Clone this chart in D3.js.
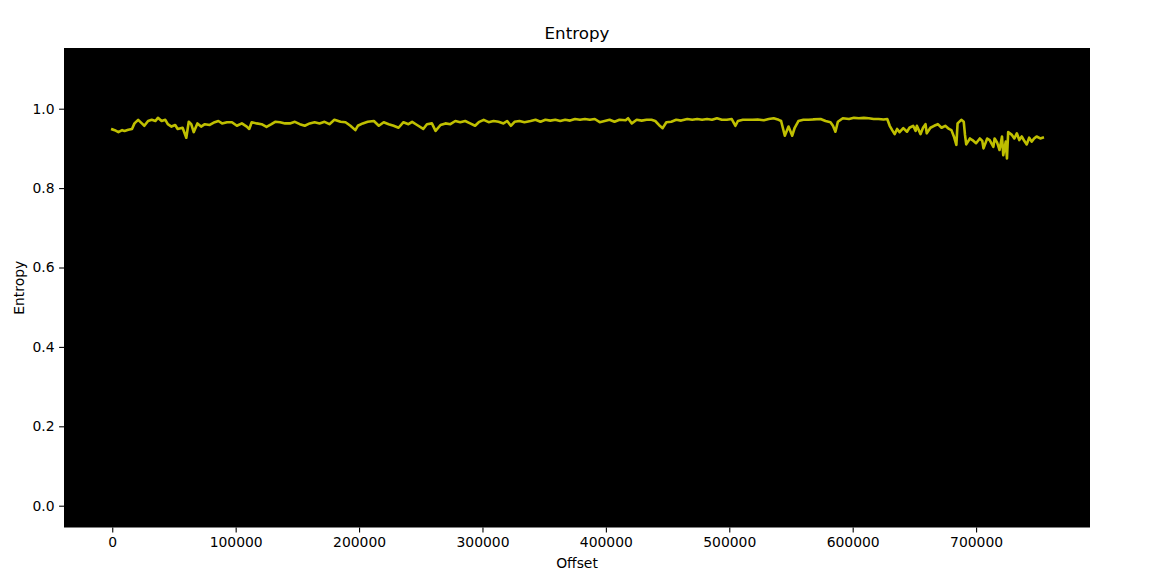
<!DOCTYPE html>
<html>
<head>
<meta charset="utf-8">
<script src="https://cdn.jsdelivr.net/npm/d3@7"></script>
<style>
  html, body { margin: 0; padding: 0; background: #ffffff; }
  svg { display: block; font-family: "DejaVu Sans", sans-serif; }
</style>
</head>
<body>
<svg id="chart" width="1154" height="583"></svg>
<script>
// ---- data ----
const offsetsK = [
  0,2,5,8,10,13,16,18,21,24,26,29,32,35,37,40,43,45,48,51,53,57,60,62,64,66,69,72,75,79,
  83,86,89,93,97,101,105,109,111,113,117,121,125,129,132,136,140,144,148,152,156,160,164,168,172,176,180,185,
  189,193,197,199,203,207,212,216,220,224,228,232,236,240,243,247,252,255,259,262,266,270,274,278,282,286,
  290,294,297,301,305,309,313,317,320,323,326,330,334,339,343,347,351,355,359,363,367,371,375,
  379,383,387,391,395,399,403,407,411,416,418,421,425,429,433,437,440,443,446,449,453,457,461,466,470,474,
  478,482,486,490,494,498,502,505,507,511,515,519,523,528,532,536,540,542,545,548,551,553,556,560,564,568,
  574,578,582,584,586,588,592,597,601,605,609,613,617,621,625,628,630,632,634,636,638,641,644,646,649,651,
  652,655,657,659,660,663,666,669,672,675,678,680,682,684,685,688,690,691,692,695,697,700,703,705,706,709,
  711,714,715,717,719,721,722,724,725,726,729,731,733,735,737,739,741,743,745,747,749,752,754
];
const entropy = [
  0.948,0.946,0.941,0.946,0.944,0.947,0.949,0.963,0.972,0.963,0.957,0.969,0.972,0.969,0.977,0.969,0.972,0.961,0.955,0.959,0.949,0.952,0.927,0.967,0.961,0.941,0.963,0.955,0.961,0.959,
  0.966,0.969,0.963,0.966,0.966,0.957,0.963,0.955,0.949,0.966,0.963,0.961,0.954,0.961,0.967,0.966,0.963,0.963,0.967,0.961,0.957,0.963,0.966,0.963,0.967,0.961,0.972,0.967,
  0.966,0.957,0.946,0.957,0.963,0.967,0.969,0.957,0.966,0.961,0.957,0.952,0.966,0.961,0.967,0.959,0.949,0.961,0.963,0.944,0.959,0.963,0.961,0.969,0.966,0.969,
  0.963,0.957,0.966,0.972,0.966,0.969,0.967,0.963,0.969,0.957,0.967,0.969,0.966,0.969,0.972,0.967,0.972,0.970,0.972,0.969,0.972,0.970,0.974,
  0.972,0.974,0.972,0.974,0.966,0.969,0.972,0.967,0.972,0.971,0.976,0.963,0.972,0.970,0.972,0.972,0.969,0.959,0.951,0.966,0.967,0.972,0.970,0.974,0.972,0.974,
  0.972,0.974,0.972,0.976,0.972,0.972,0.974,0.957,0.969,0.972,0.972,0.972,0.973,0.971,0.974,0.976,0.972,0.969,0.932,0.955,0.932,0.952,0.969,0.972,0.972,0.973,
  0.974,0.969,0.966,0.957,0.942,0.967,0.976,0.974,0.977,0.976,0.977,0.976,0.974,0.974,0.973,0.974,0.957,0.946,0.936,0.949,0.941,0.951,0.942,0.952,0.957,0.944,
  0.957,0.936,0.952,0.961,0.938,0.952,0.957,0.961,0.952,0.957,0.949,0.946,0.930,0.909,0.963,0.972,0.967,0.934,0.910,0.925,0.921,0.913,0.925,0.919,0.900,0.925,
  0.921,0.904,0.925,0.915,0.896,0.930,0.883,0.917,0.875,0.941,0.934,0.925,0.938,0.921,0.930,0.919,0.910,0.927,0.917,0.925,0.930,0.925,0.927
];
const xTicks = [0, 100000, 200000, 300000, 400000, 500000, 600000, 700000];
const yTicks = [0.0, 0.2, 0.4, 0.6, 0.8, 1.0];
const titleText = "Entropy";
const xLabelText = "Offset";
const yLabelText = "Entropy";

const data = offsetsK.map((o, i) => ({ x: o * 1000, y: entropy[i] }));

// ---- layout ----
const svg = d3.select("#chart");
const plot = { left: 64, right: 1090, top: 48, bottom: 527.5 };

const x = d3.scaleLinear().domain([-39100, 792300]).range([plot.left, plot.right]);
const y = d3.scaleLinear().domain([-0.0549, 1.1529]).range([plot.bottom, plot.top]);

// axes background
svg.append("rect")
  .attr("x", plot.left).attr("y", plot.top)
  .attr("width", plot.right - plot.left).attr("height", plot.bottom - plot.top)
  .attr("fill", "#000000");

// line
svg.append("path")
  .datum(data)
  .attr("fill", "none")
  .attr("stroke", "#bfbf00")
  .attr("stroke-width", 2.6)
  .attr("stroke-linejoin", "round")
  .attr("stroke-linecap", "square")
  .attr("d", d3.line().x(d => x(d.x)).y(d => y(d.y)));

// x axis
const xAxis = d3.axisBottom(x).tickValues(xTicks).tickFormat(d3.format("d"))
  .tickSizeInner(4.9).tickSizeOuter(0).tickPadding(4.5);
const gx = svg.append("g").attr("transform", `translate(0,${plot.bottom})`).call(xAxis);
gx.select(".domain").remove();
gx.selectAll("line").attr("stroke", "#000").attr("stroke-width", 1.1);
gx.selectAll("text").attr("fill", "#000").style("font-size", "13.9px")
  .style("font-family", "'DejaVu Sans', sans-serif");

// y axis
const yAxis = d3.axisLeft(y).tickValues(yTicks).tickFormat(d3.format(".1f"))
  .tickSizeInner(4.9).tickSizeOuter(0).tickPadding(4.5);
const gy = svg.append("g").attr("transform", `translate(${plot.left},0)`).call(yAxis);
gy.select(".domain").remove();
gy.selectAll("line").attr("stroke", "#000").attr("stroke-width", 1.1);
gy.selectAll("text").attr("fill", "#000").style("font-size", "13.9px")
  .style("font-family", "'DejaVu Sans', sans-serif");

// title and labels
svg.append("text")
  .attr("x", (plot.left + plot.right) / 2).attr("y", 39)
  .attr("text-anchor", "middle")
  .style("font-size", "16.7px")
  .text(titleText);

svg.append("text")
  .attr("x", (plot.left + plot.right) / 2).attr("y", 568)
  .attr("text-anchor", "middle")
  .style("font-size", "13.9px")
  .text(xLabelText);

svg.append("text")
  .attr("transform", `translate(24,${(plot.top + plot.bottom) / 2}) rotate(-90)`)
  .attr("text-anchor", "middle")
  .style("font-size", "13.9px")
  .text(yLabelText);
</script>
</body>
</html>
